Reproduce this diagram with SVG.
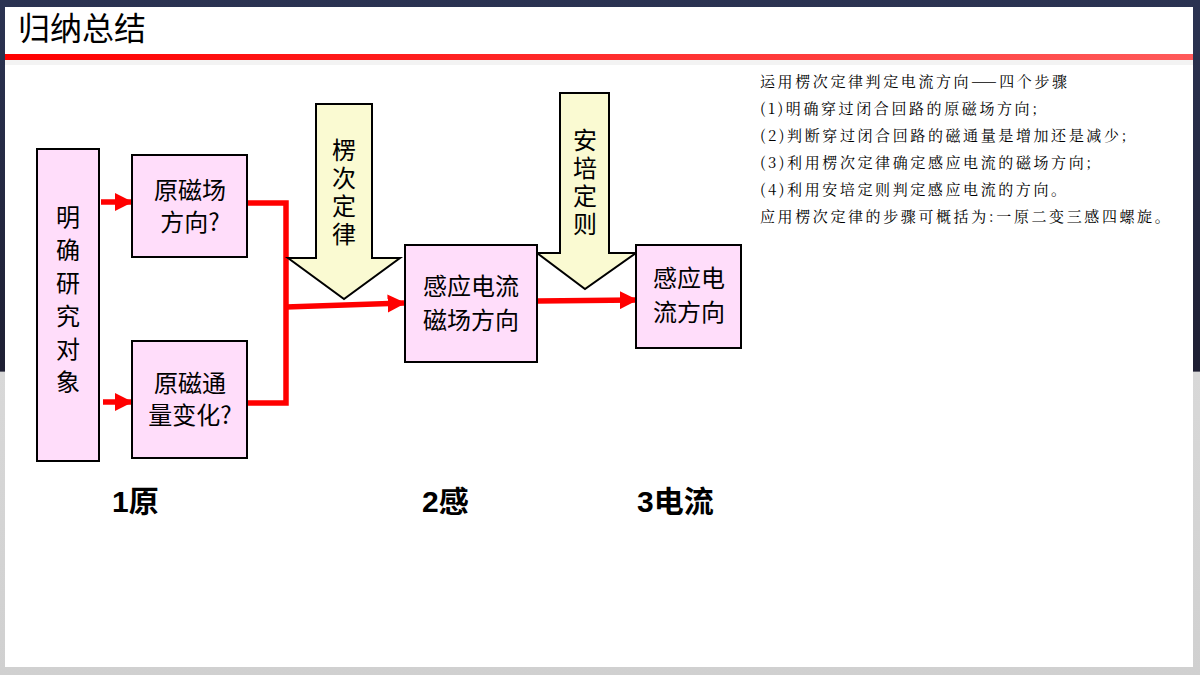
<svg xmlns="http://www.w3.org/2000/svg" width="1200" height="675" viewBox="0 0 1200 675">
<defs>
<linearGradient id="bg" x1="0" y1="0" x2="0" y2="1"><stop offset="0" stop-color="#2b3352"/><stop offset="0.55" stop-color="#1e1f33"/><stop offset="0.551" stop-color="#d8d8d8"/><stop offset="1" stop-color="#d0d0d0"/></linearGradient>
<linearGradient id="bar" x1="0" y1="0" x2="1" y2="0"><stop offset="0" stop-color="#ff0000"/><stop offset="1" stop-color="#ff5a5a"/></linearGradient>
<marker id="ah" viewBox="0 0 10 10" refX="9" refY="5" markerWidth="3.3" markerHeight="3.3" orient="auto" markerUnits="strokeWidth"><path d="M0,0 L10,5 L0,10 z" fill="#ff0000"/></marker>
<style>
.box{fill:#ffddfa;stroke:#000;stroke-width:2}
.big{fill:#fafad2;stroke:#000;stroke-width:2}
.t{font-family:"Noto Sans CJK SC","Liberation Sans",sans-serif;font-size:24px;fill:#000;text-anchor:middle}
.v{font-family:"Noto Sans CJK SC",sans-serif;font-size:24px;fill:#000;writing-mode:vertical-rl;text-orientation:upright}
.r{stroke:#ff0000;stroke-width:5.5;fill:none}
.lb{font-family:"Liberation Sans","Noto Sans CJK SC",sans-serif;font-size:30px;font-weight:bold;fill:#000}
.s{font-family:"Noto Serif CJK SC","Noto Sans CJK SC",serif;font-size:15px;fill:#000;letter-spacing:2.6px}
</style>
</defs>
<rect width="1200" height="675" fill="url(#bg)"/>
<rect x="5" y="7" width="1188" height="660" fill="#fff"/>
<text x="18" y="40" font-family="Noto Sans CJK SC,sans-serif" font-size="32" fill="#000">归纳总结</text>
<rect x="5" y="54" width="1188" height="6" fill="url(#bar)"/>
<rect x="5" y="60" width="1188" height="5" fill="#f3f3f3"/>
<g id="connectors">
<line class="r" x1="101" y1="202" x2="131" y2="202" marker-end="url(#ah)"/>
<line class="r" x1="103" y1="402" x2="131" y2="402" marker-end="url(#ah)"/>
<polyline class="r" points="248,203 286,203 286,403 248,403"/>
<line class="r" x1="286" y1="307" x2="404" y2="303" marker-end="url(#ah)"/>
<line class="r" x1="537" y1="301" x2="636" y2="300" marker-end="url(#ah)"/>
</g>
<g id="lenz"><polygon class="big" points="316,104 372,104 372,258 400,258 344,299 288,258 316,258"/>
<text class="v" x="344" y="138" letter-spacing="4">楞次定律</text></g>
<g id="ampere"><polygon class="big" points="560,93 609,93 609,253 636,253 585,289 537,253 560,253"/>
<text class="v" x="585" y="128" letter-spacing="4">安培定则</text></g>
<g id="obj"><rect class="box" x="37" y="149" width="62" height="312"/>
<text class="v" x="68" y="205" letter-spacing="9">明确研究对象</text></g>
<g id="b1"><rect class="box" x="132" y="155" width="115" height="102"/><text class="t" x="190" y="199">原磁场</text><text class="t" x="190" y="231">方向?</text></g>
<g id="b2"><rect class="box" x="132" y="341" width="115" height="117"/><text class="t" x="190" y="392">原磁通</text><text class="t" x="190" y="424">量变化?</text></g>
<g id="b3"><rect class="box" x="405" y="245" width="132" height="117"/><text class="t" x="471" y="295">感应电流</text><text class="t" x="471" y="329">磁场方向</text></g>
<g id="b4"><rect class="box" x="636" y="245" width="105" height="103"/><text class="t" x="689" y="287">感应电</text><text class="t" x="689" y="321">流方向</text></g>
<text class="lb" x="112" y="512">1原</text>
<text class="lb" x="422" y="512">2感</text>
<text class="lb" x="637" y="512">3电流</text>
<g id="notes">
<text class="s" x="760" y="87">运用楞次定律判定电流方向——四个步骤</text>
<text class="s" x="760" y="114">(1)明确穿过闭合回路的原磁场方向;</text>
<text class="s" x="760" y="141">(2)判断穿过闭合回路的磁通量是增加还是减少;</text>
<text class="s" x="760" y="168">(3)利用楞次定律确定感应电流的磁场方向;</text>
<text class="s" x="760" y="195">(4)利用安培定则判定感应电流的方向。</text>
<text class="s" x="760" y="222">应用楞次定律的步骤可概括为:一原二变三感四螺旋。</text>
</g>
</svg>
